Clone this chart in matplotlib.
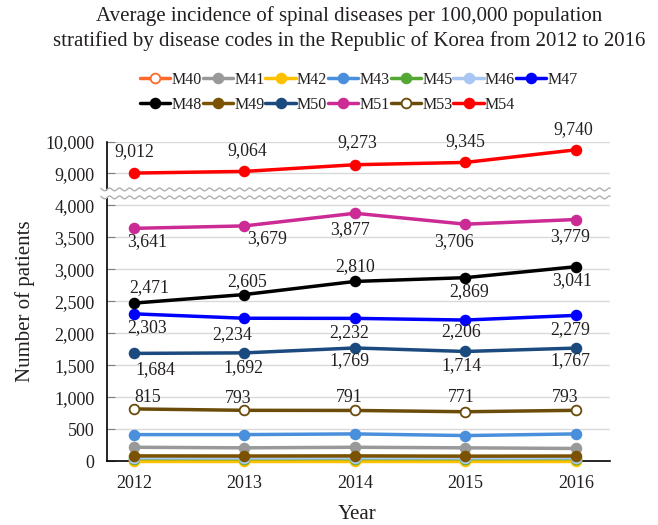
import numpy as np
import matplotlib
matplotlib.use("Agg")
import matplotlib.pyplot as plt
from matplotlib.ticker import FuncFormatter, FixedLocator

plt.rcParams['font.family'] = ['Liberation Serif', 'DejaVu Serif']

years = ["2012", "2013", "2014", "2015", "2016"]
codes = ["M40", "M41", "M42", "M43", "M45", "M46", "M47",
         "M48", "M49", "M50", "M51", "M53", "M54"]

# average incidence per 100,000 (small series)
m40 = [15, 14, 15, 14, 15]
m41 = [215, 206, 215, 206, 196]
m42 = [2, 2, 2, 2, 2]
m43 = [413, 413, 424, 398, 424]
m45 = [38, 36, 38, 36, 38]
m46 = [50, 48, 50, 48, 50]
m47 = [2303, 2234, 2232, 2206, 2279]
m48 = [2471, 2605, 2810, 2869, 3041]
m49 = [80, 78, 80, 76, 78]
m50 = [1684, 1692, 1769, 1714, 1767]
m51 = [3641, 3679, 3877, 3706, 3779]
m53 = [815, 793, 791, 771, 793]
m54 = [9012, 9064, 9273, 9345, 9740]

series = [m40, m41, m42, m43, m45, m46, m47, m48, m49, m50, m51, m53, m54]

colors = {
    "M40": "#ff6a2a", "M41": "#999999", "M42": "#ffc000", "M43": "#4a8fdb",
    "M45": "#52a832", "M46": "#a9c6f2", "M47": "#0000ff", "M48": "#000000",
    "M49": "#7b5200", "M50": "#1b4a7e", "M51": "#cc2a94", "M53": "#6b4b0a",
    "M54": "#ff0000",
}
open_markers = {"M40", "M53"}

# label offsets in pixels (dx, dy) for the annotated series
label_offsets = {
    "M54": [(0, 21), (3, 21), (2, 22), (0, 21), (-3, 20)],
    "M51": [(13, -13), (23, -13), (-5, -16), (-11, -17), (-6, -17)],
    "M48": [(15, 16), (3, 13), (0, 15), (4, -14), (-4, -14)],
    "M47": [(13, -14), (-12, -16), (-6, -14), (-4, -12), (-6, -14)],
    "M50": [(21, -16), (-1, -15), (-6, -13), (-4, -14), (-6, -13)],
    "M53": [(14, 11), (-6, 12), (-6, 13), (-4, 14), (-11, 13)],
}


def fwd(v):
    v = np.asarray(v, dtype=float)
    return np.where(v <= 4000, v,
                    np.where(v >= 9000, 4500 + (v - 9000) * 0.5,
                             4000 + (v - 4000) * 0.1))


def inv(f):
    f = np.asarray(f, dtype=float)
    return np.where(f <= 4000, f,
                    np.where(f >= 4500, 9000 + (f - 4500) * 2,
                             4000 + (f - 4000) * 10))


fig = plt.figure(figsize=(6.58, 5.25), dpi=100)
ax = fig.add_axes([107 / 658, 64 / 525, 503 / 658, 319.5 / 525])
ax.set_yscale('function', functions=(fwd, inv))
ax.set_ylim(0, 10000)
ax.set_xlim(-0.244, 4.308)

x = np.arange(len(years))
text_color = "#231f20"

for code, vals in zip(codes, series):
    c = colors[code]
    face = "white" if code in open_markers else c
    ax.plot(x, vals, color=c, lw=2.5, marker='o', ms=7, mfc=face, mec=c,
            mew=1.3, label=code, clip_on=False, zorder=3,
            solid_capstyle='round')
    if code in label_offsets:
        for i, v in enumerate(vals):
            dx, dy = label_offsets[code][i]
            ax.annotate(f"{v:,}", (x[i], v), xytext=(dx, dy),
                        textcoords='offset pixels', ha='center', va='center',
                        fontsize=12.8, color=text_color, zorder=6)

yt = [0, 500, 1000, 1500, 2000, 2500, 3000, 3500, 4000, 9000, 10000]
ax.yaxis.set_major_locator(FixedLocator(yt))
ax.yaxis.set_minor_locator(FixedLocator([]))
ax.yaxis.set_major_formatter(FuncFormatter(lambda v, p: f"{int(round(v)):,}"))
ax.set_xticks(x)
ax.set_xticklabels(years)
ax.grid(axis='y', color='#d9d9d9', lw=1, zorder=0)
ax.set_axisbelow(True)
for s in ['top', 'right']:
    ax.spines[s].set_visible(False)
for s in ['left', 'bottom']:
    ax.spines[s].set_color('#000000')
    ax.spines[s].set_linewidth(1.2)
ax.tick_params(axis='y', direction='in', length=6, color='#808080', pad=9,
               labelsize=13, labelcolor=text_color)
ax.tick_params(axis='x', length=0, pad=10, labelsize=13, labelcolor=text_color)

# axis break (two wavy lines with white gap)
wx = np.linspace(-0.012, 1.0, 600)
amp = 1.4 / 319.5
wave = amp * np.sin(2 * np.pi * (wx * 503) / 10.0)
y_up, y_lo = 0.850, 0.825
ax.fill_between(wx, y_lo + wave, y_up + wave, color='white',
                transform=ax.transAxes, clip_on=False, zorder=4, lw=0)
ax.plot(wx, y_up + wave, color='#b0b0b0', lw=1, transform=ax.transAxes,
        clip_on=False, zorder=5)
ax.plot(wx, y_lo + wave, color='#b0b0b0', lw=1, transform=ax.transAxes,
        clip_on=False, zorder=5)

ax.set_ylabel("Number of patients", fontsize=15, color=text_color)
ax.yaxis.set_label_coords(-0.162, 0.5)
ax.yaxis.label.set_va('center')
ax.set_xlabel("Year", fontsize=15, color=text_color)
ax.xaxis.set_label_coords(0.497, -0.168)
ax.xaxis.label.set_va('center')

fig.text(349 / 658, 1 - 28.5 / 525,
         "Average incidence of spinal diseases per 100,000 population\n"
         "stratified by disease codes in the Republic of Korea from 2012 to 2016",
         ha='center', va='center', fontsize=15, color=text_color,
         linespacing=1.3)

# legend: reorder so column-major filling reads row by row
handles, labels = ax.get_legend_handles_labels()
order = [0, 7, 1, 8, 2, 9, 3, 10, 4, 11, 5, 12, 6]
leg = fig.legend([handles[i] for i in order], [labels[i] for i in order],
                 ncol=7, loc='upper left', bbox_to_anchor=(140 / 658, 1 - 72 / 525),
                 frameon=False, fontsize=11.5, handlelength=1.9,
                 handletextpad=0.08, columnspacing=0.05, labelspacing=0.55,
                 borderpad=0, borderaxespad=0, markerscale=1.0)
for t in leg.get_texts():
    t.set_color(text_color)

fig.savefig("out.png", dpi=100)
